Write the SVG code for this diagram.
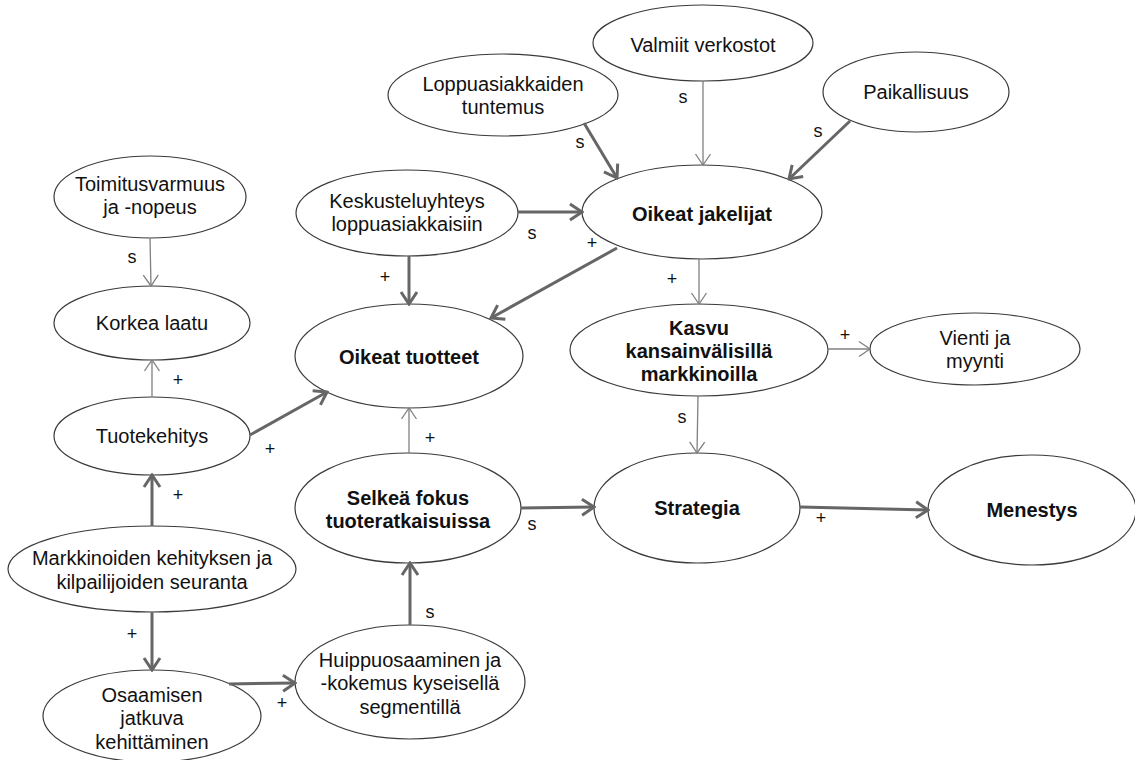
<svg xmlns="http://www.w3.org/2000/svg" width="1135" height="760" viewBox="0 0 1135 760">
<defs>
<style>
.n ellipse{fill:#fff;stroke:#3a3a3a;stroke-width:1.2}
text{font-family:"Liberation Sans",Arial,sans-serif;font-size:20px;fill:#111;text-anchor:middle;dominant-baseline:central}
.b{font-weight:bold}
.thin{stroke:#808080;stroke-width:1.3;fill:none;marker-end:url(#mt)}
.thick{stroke:#666;stroke-width:3;fill:none;marker-end:url(#mk)}
.lab{font-size:18px}
</style>
<marker id="mt" markerUnits="userSpaceOnUse" viewBox="-16 -12 18 24" markerWidth="18" markerHeight="24" refX="0" refY="0" orient="auto">
<path d="M-11,-7.5 L0,0 L-11,7.5" fill="none" stroke="#808080" stroke-width="1.3"/>
</marker>
<marker id="mk" markerUnits="userSpaceOnUse" viewBox="-18 -12 20 24" markerWidth="20" markerHeight="24" refX="0" refY="0" orient="auto">
<path d="M-12,-8 L0,0 L-12,8" fill="none" stroke="#666" stroke-width="3"/>
</marker>
</defs>
<rect width="1135" height="760" fill="#fff"/>
<g id="valmiit" class="n"><ellipse cx="703" cy="43" rx="110" ry="38"/><text x="703" y="45">Valmiit verkostot</text></g>
<g id="loppuasiakkaiden" class="n"><ellipse cx="503" cy="95" rx="115" ry="41"/><text x="503" y="84">Loppuasiakkaiden</text><text x="503" y="107">tuntemus</text></g>
<g id="paikallisuus" class="n"><ellipse cx="916" cy="92" rx="93" ry="40"/><text x="916" y="92">Paikallisuus</text></g>
<g id="jakelijat" class="n"><ellipse cx="702" cy="212" rx="120" ry="47"/><text class="b" x="702" y="214">Oikeat jakelijat</text></g>
<g id="keskustelu" class="n"><ellipse cx="407" cy="213" rx="111" ry="43"/><text x="407" y="201">Keskusteluyhteys</text><text x="407" y="224">loppuasiakkaisiin</text></g>
<g id="toimitus" class="n"><ellipse cx="150" cy="197" rx="96" ry="41"/><text x="150" y="184">Toimitusvarmuus</text><text x="150" y="207">ja -nopeus</text></g>
<g id="korkea" class="n"><ellipse cx="152" cy="323" rx="98" ry="37"/><text x="152" y="323">Korkea laatu</text></g>
<g id="tuotteet" class="n"><ellipse cx="409" cy="356" rx="114" ry="52"/><text class="b" x="409" y="357">Oikeat tuotteet</text></g>
<g id="kasvu" class="n"><ellipse cx="699" cy="350" rx="129" ry="46"/><text class="b" x="699" y="328">Kasvu</text><text class="b" x="699" y="351">kansainvälisillä</text><text class="b" x="699" y="374">markkinoilla</text></g>
<g id="vienti" class="n"><ellipse cx="975" cy="349" rx="105" ry="36"/><text x="975" y="338">Vienti ja</text><text x="975" y="361">myynti</text></g>
<g id="tuotekehitys" class="n"><ellipse cx="152" cy="436" rx="98" ry="39"/><text x="152" y="436">Tuotekehitys</text></g>
<g id="selkea" class="n"><ellipse cx="408" cy="508" rx="113" ry="55"/><text class="b" x="408" y="498">Selkeä fokus</text><text class="b" x="408" y="521">tuoteratkaisuissa</text></g>
<g id="strategia" class="n"><ellipse cx="697" cy="508" rx="103" ry="55"/><text class="b" x="697" y="508">Strategia</text></g>
<g id="menestys" class="n"><ellipse cx="1032" cy="510" rx="104" ry="55"/><text class="b" x="1032" y="510">Menestys</text></g>
<g id="markkinoiden" class="n"><ellipse cx="152" cy="569" rx="144" ry="43"/><text x="152" y="558">Markkinoiden kehityksen ja</text><text x="152" y="582">kilpailijoiden seuranta</text></g>
<g id="osaamisen" class="n"><ellipse cx="152" cy="716" rx="109" ry="46"/><text x="152" y="695">Osaamisen</text><text x="152" y="718">jatkuva</text><text x="152" y="742">kehittäminen</text></g>
<g id="huippu" class="n"><ellipse cx="410" cy="682" rx="115" ry="57"/><text x="410" y="660">Huippuosaaminen ja</text><text x="410" y="683">-kokemus kyseisellä</text><text x="410" y="707">segmentillä</text></g>
<g id="connectors">
<line class="thin" x1="703" y1="81" x2="703" y2="165"/>
<line class="thick" x1="584" y1="123" x2="617" y2="178"/>
<line class="thick" x1="850" y1="121" x2="789" y2="179"/>
<line class="thick" x1="518" y1="212" x2="582" y2="212"/>
<line class="thick" x1="617" y1="248" x2="491" y2="318"/>
<line class="thick" x1="409" y1="256" x2="409" y2="304"/>
<line class="thin" x1="699" y1="259" x2="699" y2="304"/>
<line class="thin" x1="150" y1="238" x2="151" y2="286"/>
<line class="thin" x1="152" y1="397" x2="152" y2="360"/>
<line class="thick" x1="250" y1="435" x2="327" y2="392"/>
<line class="thin" x1="409" y1="453" x2="409" y2="408"/>
<line class="thin" x1="828" y1="349" x2="870" y2="349"/>
<line class="thin" x1="698" y1="396" x2="697" y2="453"/>
<line class="thick" x1="152" y1="526" x2="152" y2="475"/>
<line class="thick" x1="521" y1="508" x2="594" y2="507"/>
<line class="thick" x1="800" y1="507" x2="928" y2="510"/>
<line class="thick" x1="152" y1="612" x2="152" y2="670"/>
<line class="thick" x1="229" y1="684" x2="295" y2="683"/>
<line class="thick" x1="410" y1="625" x2="410" y2="563"/>
<text class="lab" x="683" y="97">s</text>
<text class="lab" x="580" y="142">s</text>
<text class="lab" x="818" y="131">s</text>
<text class="lab" x="532" y="233">s</text>
<text class="lab" x="592" y="243">+</text>
<text class="lab" x="385" y="277">+</text>
<text class="lab" x="672" y="279">+</text>
<text class="lab" x="132" y="257">s</text>
<text class="lab" x="178" y="380">+</text>
<text class="lab" x="270" y="449">+</text>
<text class="lab" x="430" y="438">+</text>
<text class="lab" x="845" y="335">+</text>
<text class="lab" x="682" y="417">s</text>
<text class="lab" x="178" y="495">+</text>
<text class="lab" x="532" y="524">s</text>
<text class="lab" x="821" y="518">+</text>
<text class="lab" x="132" y="634">+</text>
<text class="lab" x="430" y="612">s</text>
<text class="lab" x="282" y="703">+</text>
</g>
</svg>
